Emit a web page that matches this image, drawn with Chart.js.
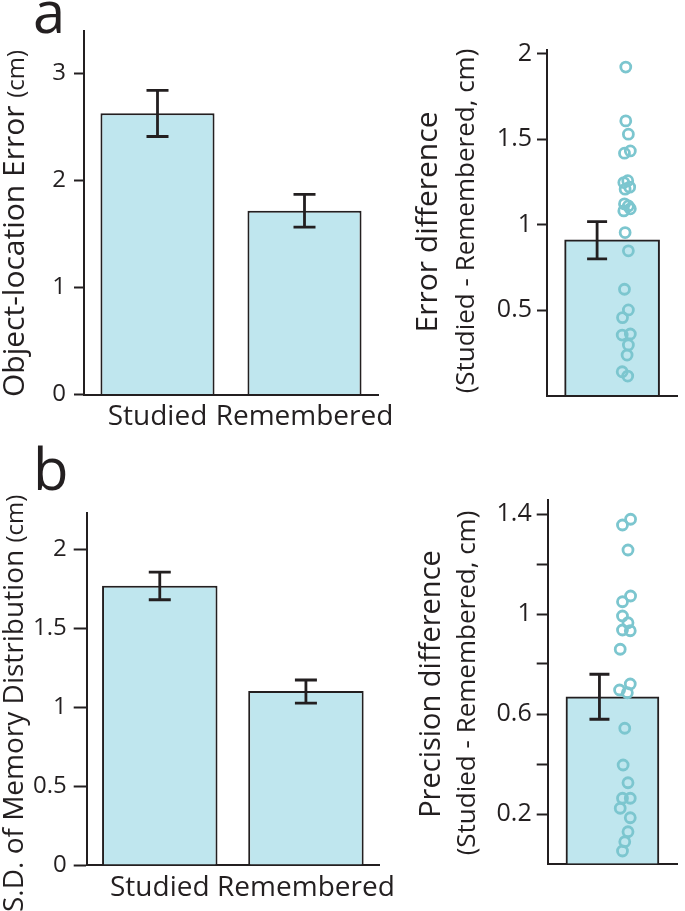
<!DOCTYPE html>
<html>
<head>
<meta charset="utf-8">
<script src="https://cdn.jsdelivr.net/npm/chart.js@4.4.1/dist/chart.umd.min.js"></script>
<style>
  html, body { margin: 0; padding: 0; background: #fff; }
  #fig { position: relative; width: 685px; height: 911px; overflow: hidden; }
  #fig canvas { position: absolute; }
</style>
</head>
<body>
<div id="fig">
  <canvas id="errorBars" width="410" height="445" style="left:0;top:0"></canvas>
  <canvas id="errorDiff" width="285" height="445" style="left:400px;top:0"></canvas>
  <canvas id="sdBars" width="410" height="476" style="left:0;top:435px"></canvas>
  <canvas id="precDiff" width="285" height="451" style="left:400px;top:460px"></canvas>
</div>
<script>
// --- data ---
const conditions = ['Studied', 'Remembered'];

// a, left: object-location error (cm)
const errorMeans = [2.626, 1.716];
const errorHi = [2.84, 1.87];
const errorLo = [2.41, 1.564];

// a, right: per-subject error difference
const errDiffMean = [0.911];
const errDiffHi = [1.018];
const errDiffLo = [0.80];
const errDiffVals = [1.923, 1.608, 1.530, 1.419, 1.432, 1.247, 1.258, 1.208, 1.220, 1.122, 1.110, 1.081,
                     1.093, 0.954, 0.847, 0.622, 0.501, 0.456, 0.354, 0.360, 0.296, 0.237, 0.139, 0.114];
const errDiffJitter = [0.21, 0.21, 0.25, 0.19, 0.28, 0.18, 0.24, 0.20, 0.27, 0.19, 0.25, 0.18,
                       0.28, 0.20, 0.25, 0.19, 0.25, 0.16, 0.155, 0.28, 0.25, 0.23, 0.155, 0.24];

// b, left: S.D. of memory distribution (cm)
const sdMeans = [1.768, 1.101];
const sdHi = [1.854, 1.171];
const sdLo = [1.679, 1.025];

// b, right: per-subject precision difference
const precDiffMean = [0.669];
const precDiffHi = [0.759];
const precDiffLo = [0.579];
const precDiffVals = [1.356, 1.379, 1.256, 1.049, 1.072, 0.992, 0.965, 0.936, 0.933, 0.859, 0.696, 0.720,
                      0.685, 0.543, 0.396, 0.325, 0.263, 0.263, 0.223, 0.185, 0.129, 0.089, 0.052];
const precDiffJitter = [0.155, 0.28, 0.24, 0.155, 0.28, 0.155, 0.24, 0.155, 0.275, 0.12, 0.11, 0.275,
                        0.23, 0.19, 0.165, 0.24, 0.155, 0.275, 0.12, 0.275, 0.24, 0.19, 0.155];

const INK = '#231f20';
const BAR = '#bfe6ee';
const DOT = '#7cc6cf';
const FONT = '"Open Sans", "Noto Sans", sans-serif';

const fmt = v => String(Number(v.toFixed(2)));

// error bars, rotated axis titles and panel letter
const figureExtras = {
  id: 'figureExtras',
  afterDatasetsDraw(chart, args, opts) {
    const eb = opts.errorBars;
    if (!eb) return;
    const ctx = chart.ctx;
    const y = chart.scales.y;
    ctx.save();
    ctx.strokeStyle = INK;
    ctx.lineWidth = 2.8;
    chart.getDatasetMeta(eb.dataset || 0).data.forEach((bar, i) => {
      const x = bar.x + (eb.shift || 0);
      const top = y.getPixelForValue(eb.hi[i]);
      const bot = y.getPixelForValue(eb.lo[i]);
      ctx.beginPath();
      ctx.moveTo(x, top); ctx.lineTo(x, bot);
      ctx.moveTo(x - eb.cap / 2, top); ctx.lineTo(x + eb.cap / 2, top);
      ctx.moveTo(x - eb.cap / 2, bot); ctx.lineTo(x + eb.cap / 2, bot);
      ctx.stroke();
    });
    ctx.restore();
  },
  afterDraw(chart, args, opts) {
    const ctx = chart.ctx;
    (opts.titles || []).forEach(t => {
      ctx.save();
      ctx.translate(t.x, t.y);
      ctx.rotate(-Math.PI / 2);
      ctx.fillStyle = INK;
      ctx.textBaseline = 'alphabetic';
      ctx.textAlign = 'left';
      const widths = t.runs.map(([s, size]) => {
        ctx.font = size + 'px ' + FONT;
        return ctx.measureText(s).width;
      });
      const total = widths.reduce((a, b) => a + b, 0);
      let pos = t.align === 'center' ? -total / 2 : 0;
      t.runs.forEach(([s, size], i) => {
        ctx.font = size + 'px ' + FONT;
        ctx.fillText(s, pos, 0);
        pos += widths[i];
      });
      ctx.restore();
    });
    if (opts.letter) {
      ctx.save();
      ctx.fillStyle = INK;
      ctx.font = '58px ' + FONT;
      ctx.textBaseline = 'alphabetic';
      ctx.fillText(opts.letter.text, opts.letter.x, opts.letter.y);
      ctx.restore();
    }
  }
};

function yAxis(p) {
  return {
    min: 0,
    max: p.max,
    afterFit: s => { s.width = p.width; },
    border: { display: true, color: INK, width: 2 },
    grid: {
      display: true, drawOnChartArea: false, drawTicks: true,
      tickLength: p.tickLen, tickWidth: 2,
      tickColor: c => (c.tick && c.tick.value === 0 && !p.zeroTick) ? 'rgba(0,0,0,0)' : INK
    },
    ticks: {
      stepSize: p.step, includeBounds: false, padding: p.pad, color: INK,
      font: { family: FONT, size: p.font },
      callback: v => (p.show(v) ? fmt(v) : '')
    }
  };
}

function barPanel(id, p) {
  return new Chart(document.getElementById(id), {
    type: 'bar',
    data: {
      labels: conditions,
      datasets: [{
        data: p.means,
        backgroundColor: BAR, borderColor: INK, borderWidth: 2,
        categoryPercentage: 1, barPercentage: p.barPct
      }]
    },
    options: {
      responsive: false, animation: false,
      layout: { padding: p.padding },
      scales: {
        x: {
          afterFit: s => { s.height = p.xHeight; },
          border: { display: true, color: INK, width: 2 },
          grid: { display: false, drawTicks: false },
          ticks: { padding: p.labelPad, color: INK, autoSkip: false, maxRotation: 0, minRotation: 0,
                   font: { family: FONT, size: 28 } }
        },
        y: yAxis(p.y)
      },
      plugins: {
        legend: { display: false }, tooltip: { enabled: false },
        figureExtras: {
          errorBars: { hi: p.hi, lo: p.lo, cap: 22, shift: 0 },
          titles: p.titles, letter: p.letter
        }
      }
    },
    plugins: [figureExtras]
  });
}

function diffPanel(id, p) {
  return new Chart(document.getElementById(id), {
    type: 'bar',
    data: {
      datasets: [{
        type: 'bar', order: 2,
        data: p.mean.map(v => ({ x: 0, y: v })),
        backgroundColor: BAR, borderColor: INK, borderWidth: 2,
        barThickness: p.barWidth
      }, {
        type: 'scatter', order: 1,
        data: p.vals.map((v, i) => ({ x: p.jitter[i], y: v })),
        pointRadius: 5, borderWidth: 2.8, borderColor: DOT,
        backgroundColor: 'rgba(0,0,0,0)'
      }]
    },
    options: {
      responsive: false, animation: false,
      layout: { padding: p.padding },
      scales: {
        x: {
          type: 'linear', min: -1, max: 1, offset: false,
          afterFit: s => { s.height = p.xHeight; },
          border: { display: true, color: INK, width: 2 },
          grid: { display: false, drawTicks: false, offset: false },
          ticks: { display: false }
        },
        y: yAxis(p.y)
      },
      plugins: {
        legend: { display: false }, tooltip: { enabled: false },
        figureExtras: {
          errorBars: { hi: p.hi, lo: p.lo, cap: 20, shift: p.shift },
          titles: p.titles
        }
      }
    },
    plugins: [figureExtras]
  });
}

barPanel('errorBars', {
  means: errorMeans, hi: errorHi, lo: errorLo, barPct: 0.776,
  padding: { left: 0, top: 30.5, right: 32, bottom: 0 }, xHeight: 50.5, labelPad: 6,
  y: { max: 3.4, step: 1, width: 84, tickLen: 10, pad: 8, font: 24, zeroTick: true, show: () => true },
  titles: [{ x: 24, y: 397, align: 'start',
             runs: [['Object-location Error ', 30], ['(cm)', 24]] }],
  letter: { text: 'a', x: 33, y: 33 }
});

diffPanel('errorDiff', {
  mean: errDiffMean, hi: errDiffHi, lo: errDiffLo, vals: errDiffVals, jitter: errDiffJitter,
  shift: -15, barWidth: 95,
  padding: { left: 0, top: 49.5, right: 0, bottom: 0 }, xHeight: 49.5,
  y: { max: 2.026, step: 0.5, width: 147, tickLen: 10, pad: 5, font: 25, zeroTick: false, show: v => v > 0 },
  titles: [
    { x: 37, y: 222, align: 'center', runs: [['Error difference', 30]] },
    { x: 74, y: 221, align: 'center', runs: [['(Studied - Remembered, cm)', 26]] }
  ]
});

barPanel('sdBars', {
  means: sdMeans, hi: sdHi, lo: sdLo, barPct: 0.79,
  padding: { left: 0, top: 77.7, right: 31, bottom: 0 }, xHeight: 46, labelPad: 6,
  y: { max: 2.23, step: 0.5, width: 86.7, tickLen: 13, pad: 7, font: 24, zeroTick: true, show: () => true },
  titles: [{ x: 23, y: 477, align: 'start',
             runs: [['S.D. of Memory Distribution ', 28], ['(cm)', 24]] }],
  letter: { text: 'b', x: 33, y: 55 }
});

diffPanel('precDiff', {
  mean: precDiffMean, hi: precDiffHi, lo: precDiffLo, vals: precDiffVals, jitter: precDiffJitter,
  shift: -13, barWidth: 93,
  padding: { left: 0, top: 40, right: 0, bottom: 0 }, xHeight: 47,
  y: { max: 1.456, step: 0.2, width: 147.7, tickLen: 11, pad: 5, font: 25, zeroTick: false,
       show: v => { const k = (v - 0.2) / 0.4; return v > 0 && Math.abs(k - Math.round(k)) < 1e-6; } },
  titles: [
    { x: 40, y: 224, align: 'center', runs: [['Precision difference', 29]] },
    { x: 75, y: 223, align: 'center', runs: [['(Studied - Remembered, cm)', 26]] }
  ]
});
</script>
</body>
</html>
